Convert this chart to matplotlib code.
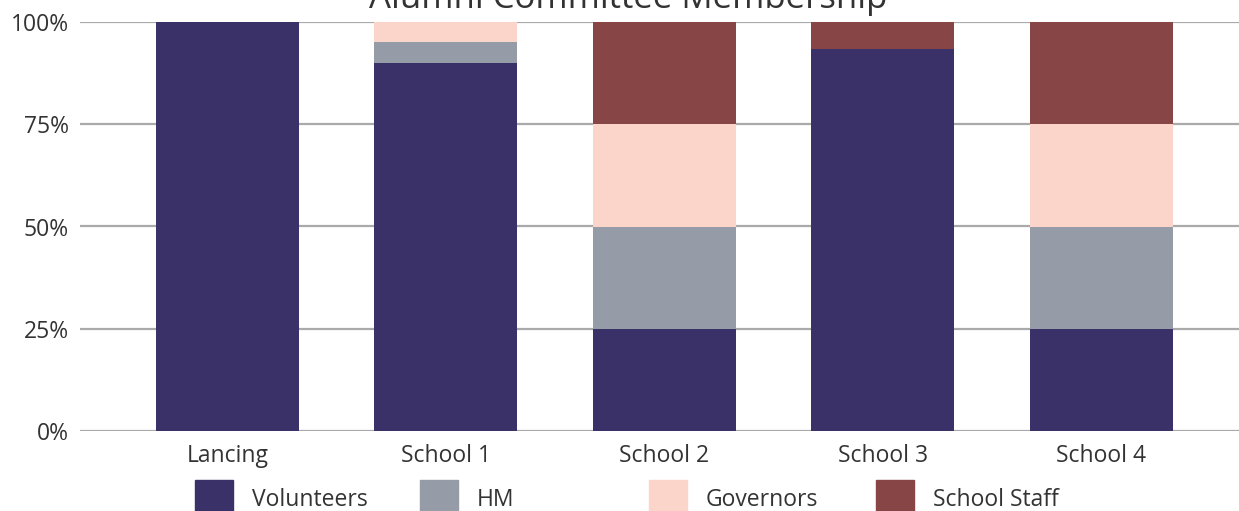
import numpy as np
import matplotlib
matplotlib.use("Agg")
import matplotlib.pyplot as plt
from matplotlib.patches import Patch

plt.rcParams['font.family'] = ['Open Sans', 'DejaVu Sans']

# Daten (Anteile in %)
schools = ['Lancing', 'School 1', 'School 2', 'School 3', 'School 4']
series = ['Volunteers', 'HM', 'Governors', 'School Staff']
volunteers = [100, 90, 25, 93.5, 25]
hm = [0, 5, 25, 0, 25]
governors = [0, 5, 25, 0, 25]
staff = [0, 0, 25, 6.5, 25]
colors = ['#3a3169', '#959ca8', '#fbd4ca', '#874545']
yticks = [0, 25, 50, 75, 100]

fig = plt.figure(figsize=(12.39, 5.11), dpi=100)
ax = fig.add_axes([80 / 1239, 1 - 431 / 511, 1 - 80 / 1239, (431 - 22) / 511])

x = np.arange(len(schools))
bottom = np.zeros(len(schools))
for vals, col, name in zip([volunteers, hm, governors, staff], colors, series):
    ax.bar(x, vals, width=0.655, bottom=bottom, color=col, label=name, zorder=2)
    bottom += np.array(vals)

ax.set_xlim(-0.675, 4.63)
ax.set_ylim(0, 100)
ax.set_yticks(yticks)
ax.set_yticklabels([f'{v}%' for v in yticks])
ax.set_xticks(x)
ax.set_xticklabels(schools)
ax.tick_params(length=0, labelsize=16.5, colors='#333333')
ax.tick_params(axis='y', pad=8)
ax.tick_params(axis='x', pad=9)
ax.yaxis.grid(True, color='#aaaaaa', linewidth=1.6, zorder=1)
ax.set_axisbelow(True)
for s in ax.spines.values():
    s.set_visible(False)

fig.text(628 / 1239, 1 - 8 / 511, 'Alumni Committee Membership', ha='center',
         va='baseline', fontsize=25, color='#333333')

# Legende: gleich breite Spalten
leg_x = [195, 420, 649, 876]
for lx, col, name in zip(leg_x, colors, series):
    fig.legend(handles=[Patch(color=col, label=name)], loc='upper left',
               bbox_to_anchor=(lx / 1239, 1 - 480 / 511), frameon=False,
               fontsize=16.5, handlelength=1.66, handleheight=2.1,
               handletextpad=0.83, borderpad=0, borderaxespad=0,
               labelcolor='#333333')

fig.savefig('out.png', dpi=100)
